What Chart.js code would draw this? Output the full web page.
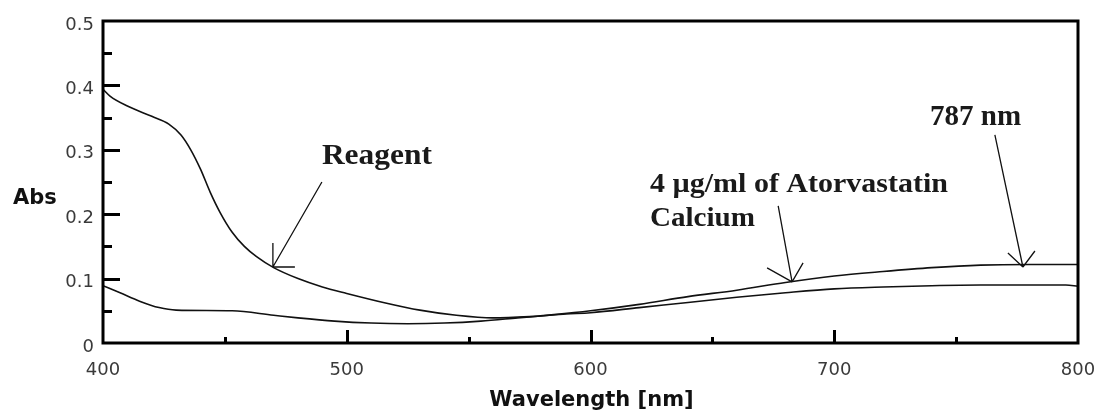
<!DOCTYPE html>
<html>
<head>
<meta charset="utf-8">
<script src="https://cdn.jsdelivr.net/npm/chart.js@4.4.0/dist/chart.umd.min.js"></script>
<style>
  html, body { margin: 0; padding: 0; background: #fff; }
  #wrap { width: 1098px; height: 410px; }
</style>
</head>
<body>
<div id="wrap"><canvas id="c" width="1098" height="410"></canvas></div>
<script>
// ---- data ----
const reagentWavelength = [400, 403, 410, 420, 427, 432, 436, 440, 444, 448, 453, 458, 463, 470, 480, 490, 500, 515, 530, 545, 560, 575, 590, 600, 620, 640, 660, 680, 700, 720, 740, 760, 780, 795, 800];
const reagentAbs        = [0.394, 0.383, 0.368, 0.352, 0.340, 0.323, 0.300, 0.270, 0.234, 0.203, 0.172, 0.150, 0.134, 0.117, 0.100, 0.087, 0.077, 0.063, 0.051, 0.043, 0.039, 0.041, 0.045, 0.047, 0.055, 0.063, 0.071, 0.078, 0.084, 0.087, 0.089, 0.090, 0.090, 0.090, 0.088];

const atorWavelength = [400, 407, 415, 423, 430, 453, 470, 480, 495, 510, 525, 540, 555, 570, 585, 600, 620, 640, 660, 680, 700, 720, 740, 760, 780, 800];
const atorAbs        = [0.089, 0.078, 0.065, 0.055, 0.051, 0.050, 0.043, 0.039, 0.034, 0.031, 0.030, 0.031, 0.034, 0.039, 0.044, 0.050, 0.060, 0.072, 0.082, 0.094, 0.104, 0.111, 0.117, 0.121, 0.122, 0.122];

const xTickValues = [400, 500, 600, 700, 800];
const xTickLabels = ['400', '500', '600', '700', '800'];
const xMinorTicks = [450, 550, 650, 750];
const yTickValues = [0, 0.1, 0.2, 0.3, 0.4, 0.5];
const yTickLabels = ['0', '0.1', '0.2', '0.3', '0.4', '0.5'];
const yMinorTicks = [0.05, 0.15, 0.25, 0.35, 0.45];

const xTitle = 'Wavelength [nm]';
const yTitle = 'Abs';

// annotations: text and arrows anchored in data coordinates
const annotationTexts = [
  { text: 'Reagent', x: 489.8, y: 0.278, size: 30, width: 110 },
  { text: '4 \u00b5g/ml of Atorvastatin', x: 624.4, y: 0.2345, size: 27, width: 298 },
  { text: 'Calcium', x: 624.4, y: 0.1817, size: 27, width: 105 },
  { text: '787 nm', x: 739.3, y: 0.3385, size: 29, width: 91 }
];
const annotationArrows = [
  { tipX: 469.7, tipY: 0.118, tailX: 489.8, tailY: 0.250, arms: [[0, -24], [22, 0]] },
  { tipX: 682.7, tipY: 0.095, tailX: 677.0, tailY: 0.213, arms: [[-25, -14], [11, -19]] },
  { tipX: 777.4, tipY: 0.118, tailX: 765.9, tailY: 0.323, arms: [[-15, -14], [12, -16]] }
];

// ---- chart ----
const toXY = (xs, ys) => xs.map((x, i) => ({ x: x, y: ys[i] }));
const tickFont = '18px "DejaVu Sans", sans-serif';
const tickColor = '#3a3a3a';

const framePlugin = {
  id: 'frame',
  afterDatasetsDraw(chart) {
    const ctx = chart.ctx;
    const a = chart.chartArea;
    const xs = chart.scales.x, ys = chart.scales.y;
    ctx.save();
    ctx.strokeStyle = '#000';
    ctx.lineCap = 'butt';

    // inner ticks
    ctx.lineWidth = 3;
    ctx.beginPath();
    yTickValues.forEach(v => {
      if (v === 0 || v === 0.5) return;
      const py = Math.round(ys.getPixelForValue(v)) + 0.5;
      ctx.moveTo(a.left, py); ctx.lineTo(a.left + 17, py);
    });
    yMinorTicks.forEach(v => {
      const py = Math.round(ys.getPixelForValue(v)) + 0.5;
      ctx.moveTo(a.left, py); ctx.lineTo(a.left + 9, py);
    });
    xTickValues.forEach(v => {
      if (v === 400 || v === 800) return;
      const px = Math.round(xs.getPixelForValue(v)) + 0.5;
      ctx.moveTo(px, a.bottom); ctx.lineTo(px, a.bottom - 13);
    });
    xMinorTicks.forEach(v => {
      const px = Math.round(xs.getPixelForValue(v)) + 0.5;
      ctx.moveTo(px, a.bottom); ctx.lineTo(px, a.bottom - 6);
    });
    ctx.stroke();

    // frame
    ctx.lineWidth = 3;
    ctx.strokeRect(a.left, a.top, a.right - a.left, a.bottom - a.top);

    // y tick labels (drawn slightly below their tick, as in the reference)
    ctx.fillStyle = tickColor;
    ctx.font = tickFont;
    ctx.textAlign = 'right';
    ctx.textBaseline = 'middle';
    yTickValues.forEach((v, i) => {
      ctx.fillText(yTickLabels[i], a.left - 9, ys.getPixelForValue(v) + 4);
    });

    // arrows
    ctx.lineWidth = 1.3;
    ctx.strokeStyle = '#111';
    annotationArrows.forEach(ar => {
      const tx = xs.getPixelForValue(ar.tipX), ty = ys.getPixelForValue(ar.tipY);
      const sx = xs.getPixelForValue(ar.tailX), sy = ys.getPixelForValue(ar.tailY);
      ctx.beginPath();
      ctx.moveTo(sx, sy); ctx.lineTo(tx, ty);
      ar.arms.forEach(d => { ctx.moveTo(tx, ty); ctx.lineTo(tx + d[0], ty + d[1]); });
      ctx.stroke();
    });

    // annotation texts
    ctx.fillStyle = '#1a1a1a';
    ctx.textBaseline = 'alphabetic';
    ctx.textAlign = 'left';
    annotationTexts.forEach(t => {
      ctx.font = 'bold ' + t.size + 'px "Liberation Serif", "Times New Roman", serif';
      const w = ctx.measureText(t.text).width;
      const sc = t.width / w;
      ctx.save();
      ctx.translate(xs.getPixelForValue(t.x), ys.getPixelForValue(t.y));
      ctx.scale(sc, 1);
      ctx.fillText(t.text, 0, 0);
      ctx.restore();
    });

    // axis titles
    ctx.fillStyle = '#111';
    ctx.font = 'bold 21px "DejaVu Sans", sans-serif';
    ctx.textAlign = 'left';
    ctx.textBaseline = 'middle';
    ctx.fillText(yTitle, 13, 199);
    ctx.textAlign = 'center';
    ctx.textBaseline = 'alphabetic';
    ctx.fillText(xTitle, (a.left + a.right) / 2 + 1, 406);
    ctx.restore();
  }
};

new Chart(document.getElementById('c'), {
  type: 'line',
  data: {
    datasets: [
      {
        label: 'Reagent',
        data: toXY(reagentWavelength, reagentAbs),
        borderColor: '#111',
        borderWidth: 1.6,
        pointRadius: 0,
        fill: false,
        cubicInterpolationMode: 'monotone'
      },
      {
        label: '4 \u00b5g/ml of Atorvastatin Calcium',
        data: toXY(atorWavelength, atorAbs),
        borderColor: '#111',
        borderWidth: 1.6,
        pointRadius: 0,
        fill: false,
        cubicInterpolationMode: 'monotone'
      }
    ]
  },
  options: {
    responsive: false,
    animation: false,
    events: [],
    layout: { padding: { top: 21, right: 20, left: 0, bottom: 0 } },
    plugins: { legend: { display: false }, tooltip: { enabled: false } },
    scales: {
      x: {
        type: 'linear',
        min: 400, max: 800,
        afterFit: s => { s.height = 67; s.paddingLeft = 0; s.paddingRight = 0; },
        afterBuildTicks: s => { s.ticks = xTickValues.map(v => ({ value: v })); },
        grid: { display: false, drawTicks: false },
        border: { display: false },
        ticks: {
          padding: 17,
          maxRotation: 0,
          autoSkip: false,
          color: tickColor,
          font: { family: '"DejaVu Sans", sans-serif', size: 18 },
          callback: (v) => { const i = xTickValues.indexOf(v); return i >= 0 ? xTickLabels[i] : ''; }
        }
      },
      y: {
        type: 'linear',
        min: 0, max: 0.5,
        afterFit: s => { s.width = 103; s.paddingTop = 0; s.paddingBottom = 0; },
        afterBuildTicks: s => { s.ticks = yTickValues.map(v => ({ value: v })); },
        grid: { display: false, drawTicks: false },
        border: { display: false },
        ticks: { display: false }
      }
    }
  },
  plugins: [framePlugin]
});
</script>
</body>
</html>
